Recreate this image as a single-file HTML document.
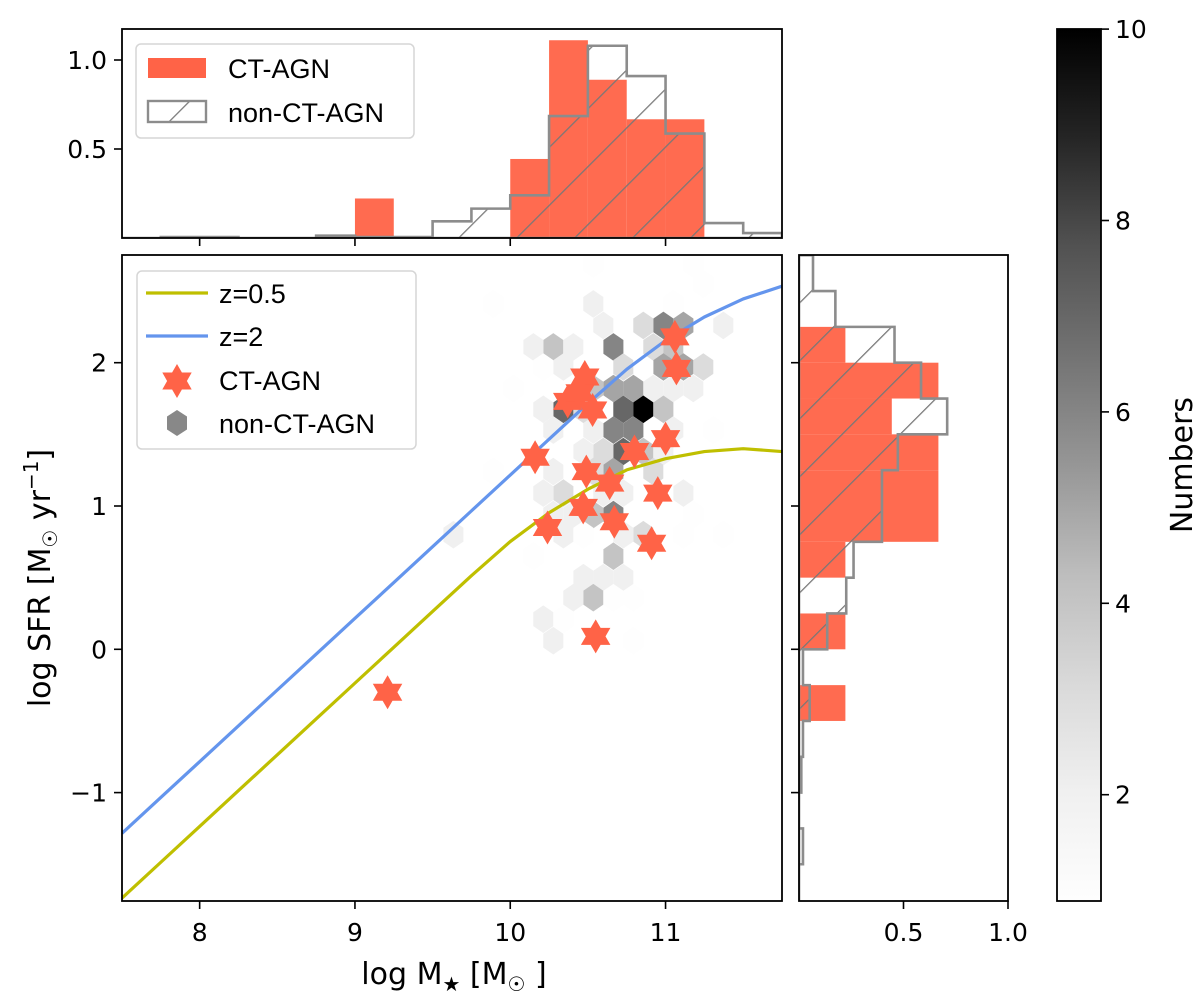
<!DOCTYPE html>
<html><head><meta charset="utf-8"><style>
html,body{margin:0;padding:0;background:#fff;}
svg{display:block;}
.tk{font-family:"DejaVu Sans","Liberation Sans",sans-serif;font-size:25px;fill:#000;}
.lg{font-family:"Liberation Sans","DejaVu Sans",sans-serif;font-size:27px;fill:#000;}
.al{font-family:"DejaVu Sans","Liberation Sans",sans-serif;font-size:30px;fill:#000;}
</style></head><body>
<svg id="fig" width="1200" height="998" viewBox="0 0 1200 998" xmlns="http://www.w3.org/2000/svg">
<defs>
<pattern id="hatch" patternUnits="userSpaceOnUse" width="41" height="41" patternTransform="rotate(45)">
<line x1="0" y1="0" x2="0" y2="41" stroke="#777" stroke-width="2.5"/>
</pattern>
<linearGradient id="cgrad" x1="0" y1="1" x2="0" y2="0">
<stop offset="0" stop-color="#fefefe"/><stop offset="0.125" stop-color="#f0f0f0"/><stop offset="0.25" stop-color="#d9d9d9"/><stop offset="0.375" stop-color="#bdbdbd"/><stop offset="0.5" stop-color="#969696"/><stop offset="0.625" stop-color="#737373"/><stop offset="0.75" stop-color="#525252"/><stop offset="0.875" stop-color="#252525"/><stop offset="1" stop-color="#000"/>
</linearGradient>
<clipPath id="clipMain"><rect x="122" y="255" width="660" height="646"/></clipPath>
<clipPath id="clipTop"><rect x="122" y="29" width="660" height="209"/></clipPath>
<clipPath id="clipRight"><rect x="799" y="255" width="209" height="646"/></clipPath>
</defs>
<g id="mainPanel"></g>
<g id="topPanel"></g>
<g id="rightPanel"></g>
<g id="cbarPanel"></g>
</svg>
<script>
// ---- data ----
const massGrid = [7.5,7.75,8,8.25,8.5,8.75,9,9.25,9.5,9.75,10,10.25,10.5,10.75,11,11.25,11.5,11.75];
const sfrZ2   = [-1.284,-1.034,-0.784,-0.534,-0.284,-0.034,0.216,0.466,0.716,0.966,1.216,1.466,1.716,1.954,2.155,2.319,2.445,2.534];
const sfrZ05  = [-1.736,-1.486,-1.236,-0.986,-0.736,-0.486,-0.236,0.014,0.264,0.514,0.752,0.953,1.117,1.252,1.33,1.38,1.40,1.38];
const ctMass = [11.06,11.07,10.48,10.37,10.45,10.53,10.16,11.00,10.80,10.49,10.64,10.95,10.47,10.24,10.67,10.91,10.55,9.21];
const ctSfr  = [2.18,1.96,1.90,1.73,1.79,1.67,1.34,1.47,1.38,1.24,1.16,1.09,0.99,0.85,0.89,0.74,0.09,-0.30];
const hexMass = [11.243,10.535,9.891,11.050,10.857,10.986,11.115,11.372,10.599,10.277,10.149,10.406,10.664,10.921,11.050,10.728,10.986,11.115,11.243,10.342,10.213,10.535,10.664,10.793,10.921,11.050,11.179,10.020,10.342,10.213,10.728,10.857,10.986,10.471,10.664,10.793,10.535,10.277,11.050,11.308,10.728,10.599,10.471,10.857,10.986,10.664,10.535,10.277,10.921,9.891,10.342,10.213,10.599,10.728,11.115,10.664,10.535,10.406,10.277,11.179,10.857,10.342,10.471,10.728,11.115,11.372,10.664,10.149,10.471,10.599,10.728,10.535,10.406,10.664,10.793,10.213,10.342,10.277,10.793,9.634,10.535,11.179];
const hexSfr  = [2.55,2.41,2.41,2.41,2.26,2.26,2.26,2.26,2.26,2.11,2.11,2.11,2.11,2.11,2.11,1.97,1.97,1.97,1.97,1.97,1.97,1.82,1.82,1.82,1.82,1.82,1.82,1.82,1.675,1.675,1.675,1.675,1.675,1.675,1.53,1.53,1.53,1.53,1.53,1.53,1.38,1.38,1.38,1.38,1.38,1.24,1.24,1.24,1.24,1.24,1.09,1.09,1.09,1.09,1.09,0.94,0.94,0.94,0.94,0.94,0.80,0.80,0.80,0.80,0.80,0.80,0.65,0.65,0.50,0.50,0.50,0.36,0.36,0.36,0.36,0.21,0.21,0.06,0.06,0.80,2.69,2.69];
const hexCount= [1,2,1,1,3,6,5,2,2,4,2,2,6,3,4,3,5,5,3,2,1,4,5,5,2,2,2,1,7,2,7,10,4,3,6,6,2,2,2,1,7,3,2,4,2,5,3,2,3,1,3,2,2,2,2,6,4,2,2,1,3,2,1,2,1,1,4,1,2,2,2,4,2,1,1,2,1,2,1,2,1,1];
const topEdgeStart = 7.5, binW = 0.25;
const topCT    = [0,0,0,0,0,0,0.222,0,0,0,0.444,1.111,0.889,0.667,0.667,0,0];
const topNonCT = [0,0.005,0.005,0,0,0.013,0.005,0.005,0.094,0.165,0.24,0.685,1.08,0.91,0.587,0.084,0.028];
const rightEdgeStart = -1.75;
const rightCT    = [0,0,0,0,0,0.222,0,0.222,0,0.222,0.667,0.667,0.667,0.444,0.667,0.222,0,0];
const rightNonCT = [0,0.019,0,0.011,0.019,0.051,0.019,0.135,0.226,0.261,0.397,0.397,0.473,0.709,0.584,0.457,0.174,0.067];
const xTicks = [8,9,10,11];
const yTicks = [2,1,0,-1];
const topYTicks = [0.5,1.0];
const rightXTicks = [0.5,1.0];
const cbTicks = [2,4,6,8,10];

// ---- scales ----
const X = v => 122 + (v-7.5)*155.3;
const Y = v => 362.7 - (v-2)*143.3;
const Yt = v => 238 - v*178;
const Xr = v => 799 + v*209;
const Yc = v => 794.7 - (v-2)*95.7;
const NS = "http://www.w3.org/2000/svg";
function mk(tag, attrs, parent){const e=document.createElementNS(NS,tag);for(const k in attrs)e.setAttribute(k,attrs[k]);parent.appendChild(e);return e;}
function fmt(v){return v<0?"\u2212"+Math.abs(v):String(v);}
const greyStops=[1,0.941,0.851,0.741,0.588,0.451,0.322,0.145,0];
function grey(n){let t=(n-0.89)/(10-0.89);t=Math.max(0,Math.min(1,t));const p=t*8,i=Math.min(7,Math.floor(p)),f=p-i;const g=greyStops[i]+(greyStops[i+1]-greyStops[i])*f;const c=Math.round(g*255);return `rgb(${c},${c},${c})`;}
function star(cx,cy,R){const r=R*0.58;let pts=[];for(let k=0;k<12;k++){const a=-Math.PI/2+k*Math.PI/6;const rr=k%2?r:R;pts.push((cx+rr*Math.cos(a)).toFixed(1)+","+(cy+rr*Math.sin(a)).toFixed(1));}return pts.join(" ");}
function hexPts(cx,cy,hw,R){return [[cx,cy-R],[cx+hw,cy-R/2],[cx+hw,cy+R/2],[cx,cy+R],[cx-hw,cy+R/2],[cx-hw,cy-R/2]].map(p=>p[0].toFixed(1)+","+p[1].toFixed(1)).join(" ");}

// ---- main panel ----
const mainPanel=document.getElementById('mainPanel');
const mg=mk('g',{'clip-path':'url(#clipMain)'},mainPanel);
hexMass.forEach((m,i)=>{
  const h=mk('polygon',{points:hexPts(X(m),Y(hexSfr[i]),10,13.8),fill:grey(hexCount[i])},mg);
  
  
});
const lz05=mk('polyline',{points:massGrid.map((m,i)=>X(m)+","+Y(sfrZ05[i])).join(" "),fill:"none",stroke:"#bfbf00","stroke-width":3.2,"stroke-linejoin":"round"},mg);


const lz2=mk('polyline',{points:massGrid.map((m,i)=>X(m)+","+Y(sfrZ2[i])).join(" "),fill:"none",stroke:"#6495ed","stroke-width":3.2,"stroke-linejoin":"round"},mg);


ctMass.forEach((m,i)=>{
  const s=mk('polygon',{points:star(X(m),Y(ctSfr[i]),17),fill:"#ff6347"},mg);
  
  
});
mk('rect',{x:122,y:255,width:660,height:646,fill:"none",stroke:"#000","stroke-width":1.8},mainPanel);
xTicks.forEach(t=>{
  mk('line',{x1:X(t),y1:901,x2:X(t),y2:909,stroke:"#000","stroke-width":1.6},mainPanel);
  const tx=mk('text',{x:X(t),y:941,'text-anchor':'middle',class:'tk'},mainPanel);tx.textContent=fmt(t);
  
  
});
yTicks.forEach(t=>{
  mk('line',{x1:114,y1:Y(t),x2:122,y2:Y(t),stroke:"#000","stroke-width":1.6},mainPanel);
  const tx=mk('text',{x:107,y:Y(t)+9,'text-anchor':'end',class:'tk'},mainPanel);tx.textContent=fmt(t);
  
  
});
const xl=mk('text',{x:454,y:984,'text-anchor':'middle',class:'al'},mainPanel);
xl.innerHTML='log M<tspan font-size="20" dy="7">\u2605</tspan><tspan dy="-7"> [M</tspan><tspan font-size="20" dy="7">\u2609</tspan><tspan dy="-7"> ]</tspan>';


const yl=mk('text',{x:0,y:0,'text-anchor':'middle',class:'al',transform:'translate(50,578) rotate(-90)'},mainPanel);
yl.innerHTML='log SFR [M<tspan font-size="20" dy="7">\u2609</tspan><tspan dy="-7"> yr</tspan><tspan font-size="20" dy="-12">\u22121</tspan><tspan dy="12">]</tspan>';


const ml=mk('g',{},mainPanel);


mk('rect',{x:137,y:271,width:279,height:178,rx:5,fill:"#fff","fill-opacity":0.85,stroke:"#d6d6d6","stroke-width":1.5},ml);
mk('line',{x1:146,y1:293,x2:208,y2:293,stroke:"#bfbf00","stroke-width":3.2},ml);
mk('line',{x1:146,y1:336,x2:208,y2:336,stroke:"#6495ed","stroke-width":3.2},ml);
mk('polygon',{points:star(177,381,17),fill:"#ff6347"},ml);
mk('polygon',{points:hexPts(177,423,10,13),fill:"#888"},ml);
[['z=0.5',303],['z=2',346],['CT-AGN',390],['non-CT-AGN',433]].forEach(e=>{const t=mk('text',{x:219,y:e[1],class:'lg'},ml);t.textContent=e[0];});

// ---- top histogram ----
const topPanel=document.getElementById('topPanel');
const tg=mk('g',{'clip-path':'url(#clipTop)'},topPanel);
topCT.forEach((v,i)=>{if(v<=0)return;const x0=X(topEdgeStart+i*binW),x1=X(topEdgeStart+(i+1)*binW);
  const r=mk('rect',{x:x0,y:Yt(v),width:x1-x0,height:Yt(0)-Yt(v),fill:"#ff6347","fill-opacity":0.95},tg);
  
  });
let pd=`M${X(topEdgeStart)},${Yt(0)}`;
topNonCT.forEach((v,i)=>{pd+=` L${X(topEdgeStart+i*binW)},${Yt(v)} L${X(topEdgeStart+(i+1)*binW)},${Yt(v)}`;});
pd+=` L${X(topEdgeStart+topNonCT.length*binW)},${Yt(0)} Z`;
const ts=mk('path',{d:pd,fill:"url(#hatch)",stroke:"#8c8c8c","stroke-width":2.6},tg);


mk('rect',{x:122,y:29,width:660,height:209,fill:"none",stroke:"#000","stroke-width":1.8},topPanel);
xTicks.forEach(t=>mk('line',{x1:X(t),y1:238,x2:X(t),y2:246,stroke:"#000","stroke-width":1.6},topPanel));
topYTicks.forEach(t=>{mk('line',{x1:114,y1:Yt(t),x2:122,y2:Yt(t),stroke:"#000","stroke-width":1.6},topPanel);
  const tx=mk('text',{x:107,y:Yt(t)+9,'text-anchor':'end',class:'tk'},topPanel);tx.textContent=t.toFixed(1);
  
  });
const tl=mk('g',{},topPanel);


mk('rect',{x:136,y:44,width:278,height:94,rx:5,fill:"#fff","fill-opacity":0.85,stroke:"#d6d6d6","stroke-width":1.5},tl);
mk('rect',{x:148,y:58,width:58,height:20,fill:"#ff6347"},tl);
mk('rect',{x:148,y:101,width:58,height:21,fill:"url(#hatch)",stroke:"#8c8c8c","stroke-width":2.4},tl);
[['CT-AGN',78],['non-CT-AGN',122]].forEach(e=>{const t=mk('text',{x:228,y:e[1],class:'lg'},tl);t.textContent=e[0];});

// ---- right histogram ----
const rightPanel=document.getElementById('rightPanel');
const rg=mk('g',{'clip-path':'url(#clipRight)'},rightPanel);
rightCT.forEach((v,i)=>{if(v<=0)return;const y0=Y(rightEdgeStart+(i+1)*binW),y1=Y(rightEdgeStart+i*binW);
  const r=mk('rect',{x:Xr(0),y:y0,width:Xr(v)-Xr(0),height:y1-y0,fill:"#ff6347","fill-opacity":0.95},rg);
  
  });
let rd=`M${Xr(0)},${Y(rightEdgeStart)}`;
rightNonCT.forEach((v,i)=>{rd+=` L${Xr(v)},${Y(rightEdgeStart+i*binW)} L${Xr(v)},${Y(rightEdgeStart+(i+1)*binW)}`;});
rd+=` L${Xr(0)},${Y(rightEdgeStart+rightNonCT.length*binW)} Z`;
const rs=mk('path',{d:rd,fill:"url(#hatch)",stroke:"#8c8c8c","stroke-width":2.6},rg);


mk('rect',{x:799,y:255,width:209,height:646,fill:"none",stroke:"#000","stroke-width":1.8},rightPanel);
yTicks.forEach(t=>mk('line',{x1:791,y1:Y(t),x2:799,y2:Y(t),stroke:"#000","stroke-width":1.6},rightPanel));
rightXTicks.forEach(t=>{mk('line',{x1:Xr(t),y1:901,x2:Xr(t),y2:909,stroke:"#000","stroke-width":1.6},rightPanel);
  const tx=mk('text',{x:Xr(t),y:941,'text-anchor':'middle',class:'tk'},rightPanel);tx.textContent=t.toFixed(1);
  
  });

// ---- colorbar ----
const cbPanel=document.getElementById('cbarPanel');
mk('rect',{x:1057,y:29,width:44,height:872,fill:"url(#cgrad)",stroke:"#000","stroke-width":1.8},cbPanel);
cbTicks.forEach(t=>{mk('line',{x1:1101,y1:Yc(t),x2:1109,y2:Yc(t),stroke:"#000","stroke-width":1.6},cbPanel);
  const tx=mk('text',{x:1115,y:Yc(t)+9,class:'tk'},cbPanel);tx.textContent=String(t);
  
  });
const cl=mk('text',{x:0,y:0,'text-anchor':'middle',class:'al',transform:'translate(1192,465) rotate(-90)'},cbPanel);
cl.textContent='Numbers';


</script>
</body></html>
